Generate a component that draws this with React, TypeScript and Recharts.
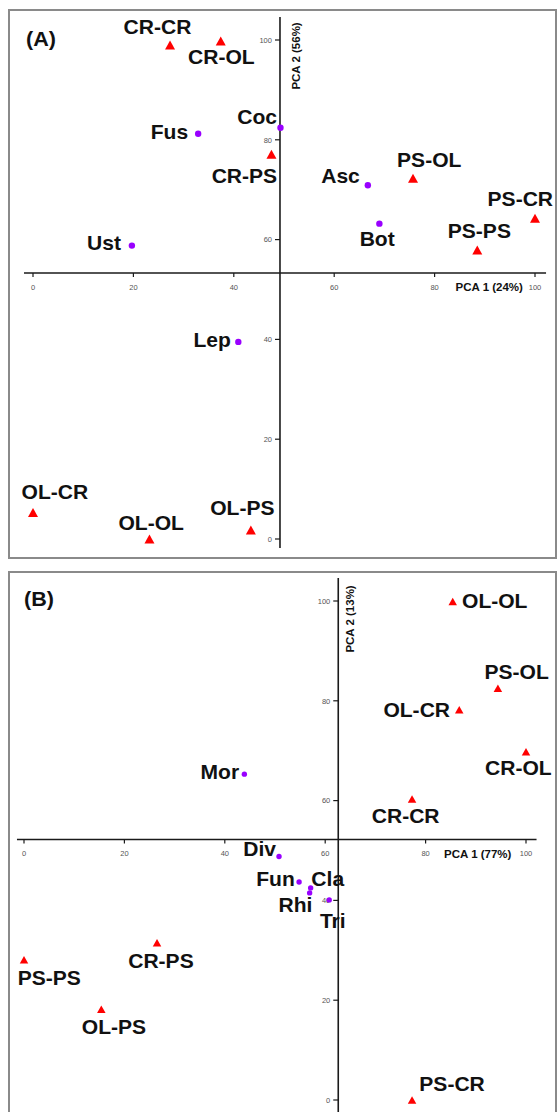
import { ReferenceDot, ReferenceLine, Scatter, ScatterChart, XAxis, YAxis } from 'recharts'

const FONT = '"Liberation Sans", Arial, Helvetica, sans-serif'

const AXIS_TICKS = [0, 20, 40, 60, 80, 100]

// Panel A: soil samples (triangles) and fungal taxa (dots)
const A_SAMPLES = ['CR-CR', 'CR-OL', 'CR-PS', 'PS-OL', 'PS-CR', 'PS-PS', 'OL-CR', 'OL-OL', 'OL-PS']
const A_SAMPLE_PC1 = [27.3, 37.4, 47.5, 75.7, 100, 88.5, 0, 23.2, 43.4]
const A_SAMPLE_PC2 = [99.0, 99.8, 77.1, 72.3, 64.3, 57.9, 5.3, 0, 1.8]
const A_TAXA = ['Coc', 'Fus', 'Asc', 'Bot', 'Ust', 'Lep']
const A_TAXA_PC1 = [49.3, 32.9, 66.7, 69.0, 19.7, 40.9]
const A_TAXA_PC2 = [82.4, 81.2, 70.9, 63.2, 58.8, 39.5]

// Panel B
const B_SAMPLES = ['OL-OL', 'PS-OL', 'OL-CR', 'CR-OL', 'CR-CR', 'CR-PS', 'PS-PS', 'OL-PS', 'PS-CR']
const B_SAMPLE_PC1 = [85.4, 94.4, 86.7, 100, 77.3, 26.5, 0, 15.4, 77.3]
const B_SAMPLE_PC2 = [99.9, 82.5, 78.2, 69.8, 60.3, 31.5, 28.1, 18.2, 0]
const B_TAXA = ['Mor', 'Div', 'Fun', 'Cla', 'Rhi', 'Tri']
const B_TAXA_PC1 = [43.9, 50.8, 54.8, 57.1, 56.9, 60.8]
const B_TAXA_PC2 = [65.3, 48.8, 43.7, 42.5, 41.5, 40.1]

type Anchor = 'start' | 'middle' | 'end'
type Place = [number, number, Anchor]

// label offset from the marker: dx, baseline dy, anchor
const A_PLACE: Record<string, Place> = {
  'CR-CR': [-12.6, -10.7, 'middle'],
  'CR-OL': [0.6, 23, 'middle'],
  'CR-PS': [5.7, 28.4, 'end'],
  'PS-OL': [16.2, -11.3, 'middle'],
  'PS-CR': [-14.7, -12.3, 'middle'],
  'PS-PS': [2.1, -11.7, 'middle'],
  'OL-CR': [21.9, -13.7, 'middle'],
  'OL-OL': [1.7, -8.6, 'middle'],
  'OL-PS': [-8.5, -15, 'middle'],
  Coc: [-3.5, -4, 'end'],
  Fus: [-10, 5.3, 'end'],
  Asc: [-8, -2.6, 'end'],
  Bot: [-2.2, 22.3, 'middle'],
  Ust: [-11, 4.3, 'end'],
  Lep: [-7.5, 5.6, 'end'],
}

const B_PLACE: Record<string, Place> = {
  'OL-OL': [9.3, 6.2, 'start'],
  'PS-OL': [18.7, -9.3, 'middle'],
  'OL-CR': [-9.2, 7.7, 'end'],
  'CR-OL': [-7.7, 23.3, 'middle'],
  'CR-CR': [-6.4, 24.3, 'middle'],
  'CR-PS': [3.9, 25.6, 'middle'],
  'PS-PS': [25.3, 25, 'middle'],
  'OL-PS': [12.6, 25, 'middle'],
  'PS-CR': [40, -9, 'middle'],
  Mor: [-5.3, 5, 'end'],
  Div: [-3, 0, 'end'],
  Fun: [-4.3, 3.7, 'end'],
  Cla: [0.7, -2.3, 'start'],
  Rhi: [2.7, 19, 'end'],
  Tri: [-9.3, 28.3, 'start'],
}

interface PanelCfg {
  top: number
  height: number
  margin: { top: number; right: number; bottom: number; left: number }
  samples: string[]
  sx: number[]
  sy: number[]
  taxa: string[]
  tx: number[]
  ty: number[]
  place: Record<string, Place>
  origin: { x: number; y: number }
  xLine: [number, number]
  yLine: [number, number]
  xTitle: string
  xTitleAt: number
  yTitle: string
  yTitleAt: number
  yTitleDx: number
  tri: [number, number]
  dot: number
}

const PANEL_A: PanelCfg = {
  top: 0,
  height: 560,
  margin: { top: 40, right: 23, bottom: 21, left: 33 },
  samples: A_SAMPLES,
  sx: A_SAMPLE_PC1,
  sy: A_SAMPLE_PC2,
  taxa: A_TAXA,
  tx: A_TAXA_PC1,
  ty: A_TAXA_PC2,
  place: A_PLACE,
  origin: { x: 49.2, y: 53.3 },
  xLine: [-1.8, 102.2],
  yLine: [-1.8, 104.6],
  xTitle: 'PCA 1 (24%)',
  xTitleAt: 97.6,
  yTitle: 'PCA 2 (56%)',
  yTitleAt: 96.8,
  yTitleDx: 20.5,
  tri: [10, 9],
  dot: 3.2,
}

const PANEL_B: PanelCfg = {
  top: 562,
  height: 550,
  margin: { top: 39, right: 32, bottom: 12, left: 24 },
  samples: B_SAMPLES,
  sx: B_SAMPLE_PC1,
  sy: B_SAMPLE_PC2,
  taxa: B_TAXA,
  tx: B_TAXA_PC1,
  ty: B_TAXA_PC2,
  place: B_PLACE,
  origin: { x: 62.6, y: 52.2 },
  xLine: [-1.4, 102.1],
  yLine: [-2.6, 104.6],
  xTitle: 'PCA 1 (77%)',
  xTitleAt: 97.1,
  yTitle: 'PCA 2 (13%)',
  yTitleAt: 96.4,
  yTitleDx: 15.5,
  tri: [8.5, 7.5],
  dot: 2.7,
}

function pointLabel(cx: number, cy: number, name: string, place: Record<string, Place>) {
  const [dx, dy, anchor] = place[name] ?? [0, -10, 'middle']
  return (
    <text
      transform={`translate(${cx + dx},${cy + dy}) scale(1.08,1)`}
      textAnchor={anchor}
      fontFamily={FONT}
      fontWeight="bold"
      fontSize={19.5}
      fill="#111"
    >
      {name}
    </text>
  )
}

function PcaPanel({ cfg }: { cfg: PanelCfg }) {
  const sampleRows = cfg.samples.map((name, i) => ({ name, x: cfg.sx[i], y: cfg.sy[i] }))
  const taxaRows = cfg.taxa.map((name, i) => ({ name, x: cfg.tx[i], y: cfg.ty[i] }))
  const { origin } = cfg
  const [tw, th] = cfg.tri

  return (
    <div style={{ position: 'absolute', left: 0, top: cfg.top }}>
      <ScatterChart width={558} height={cfg.height} margin={cfg.margin}>
        <XAxis type="number" dataKey="x" domain={[0, 100]} hide height={0} />
        <YAxis type="number" dataKey="y" domain={[0, 100]} hide width={0} />

        {/* axes cross inside the plot, so they are drawn as reference lines */}
        <ReferenceLine
          segment={[{ x: cfg.xLine[0], y: origin.y }, { x: cfg.xLine[1], y: origin.y }]}
          stroke="#1a1a1a"
          strokeWidth={1.6}
          ifOverflow="visible"
        />
        <ReferenceLine
          segment={[{ x: origin.x, y: cfg.yLine[0] }, { x: origin.x, y: cfg.yLine[1] }]}
          stroke="#1a1a1a"
          strokeWidth={1.6}
          ifOverflow="visible"
        />

        {AXIS_TICKS.map((v) => (
          <ReferenceDot
            key={`xt${v}`}
            x={v}
            y={origin.y}
            r={0}
            ifOverflow="visible"
            shape={(p: any) => (
              <g>
                <line x1={p.cx} y1={p.cy} x2={p.cx} y2={p.cy + 4} stroke="#1a1a1a" strokeWidth={1.2} />
                <text x={p.cx} y={p.cy + 16.7} textAnchor="middle" fontFamily={FONT} fontSize={7.5} fill="#555">
                  {v}
                </text>
              </g>
            )}
          />
        ))}
        {AXIS_TICKS.map((v) => (
          <ReferenceDot
            key={`yt${v}`}
            x={origin.x}
            y={v}
            r={0}
            ifOverflow="visible"
            shape={(p: any) => (
              <g>
                <line x1={p.cx - 5} y1={p.cy} x2={p.cx} y2={p.cy} stroke="#1a1a1a" strokeWidth={1.2} />
                <text x={p.cx - 8} y={p.cy + 2.7} textAnchor="end" fontFamily={FONT} fontSize={7.5} fill="#555">
                  {v}
                </text>
              </g>
            )}
          />
        ))}

        <ReferenceDot
          x={cfg.xTitleAt}
          y={origin.y}
          r={0}
          ifOverflow="visible"
          shape={(p: any) => (
            <text x={p.cx} y={p.cy + 18} textAnchor="end" fontFamily={FONT} fontWeight="bold" fontSize={11.5} fill="#111">
              {cfg.xTitle}
            </text>
          )}
        />
        <ReferenceDot
          x={origin.x}
          y={cfg.yTitleAt}
          r={0}
          ifOverflow="visible"
          shape={(p: any) => (
            <text
              transform={`translate(${p.cx + cfg.yTitleDx},${p.cy}) rotate(-90)`}
              textAnchor="middle"
              fontFamily={FONT}
              fontWeight="bold"
              fontSize={11.5}
              fill="#111"
            >
              {cfg.yTitle}
            </text>
          )}
        />

        <Scatter
          data={taxaRows}
          isAnimationActive={false}
          shape={(p: any) => (
            <g>
              <circle cx={p.cx} cy={p.cy} r={cfg.dot} fill="#9900ff" />
              {pointLabel(p.cx, p.cy, p.payload.name, cfg.place)}
            </g>
          )}
        />
        <Scatter
          data={sampleRows}
          isAnimationActive={false}
          shape={(p: any) => (
            <g>
              <polygon
                points={`${p.cx},${p.cy - th / 2} ${p.cx + tw / 2},${p.cy + th / 2} ${p.cx - tw / 2},${p.cy + th / 2}`}
                fill="#ff0000"
              />
              {pointLabel(p.cx, p.cy, p.payload.name, cfg.place)}
            </g>
          )}
        />
      </ScatterChart>
    </div>
  )
}

const frame = { position: 'absolute' as const, left: 8, width: 545, border: '2px solid #8a8a8a' }

export default function App() {
  return (
    <div style={{ position: 'absolute', left: 0, top: 0, width: 558, height: 1112, overflow: 'hidden', background: '#fff' }}>
      <div style={{ ...frame, top: 9, height: 546 }} />
      <div style={{ ...frame, top: 571, height: 560 }} />
      <PcaPanel cfg={PANEL_A} />
      <PcaPanel cfg={PANEL_B} />
      <svg width={558} height={1112} style={{ position: 'absolute', left: 0, top: 0, pointerEvents: 'none' }}>
        <text transform="translate(26,46) scale(1.08,1)" fontFamily={FONT} fontWeight="bold" fontSize={20} fill="#111">
          (A)
        </text>
        <text transform="translate(24,606) scale(1.08,1)" fontFamily={FONT} fontWeight="bold" fontSize={20} fill="#111">
          (B)
        </text>
      </svg>
    </div>
  )
}
